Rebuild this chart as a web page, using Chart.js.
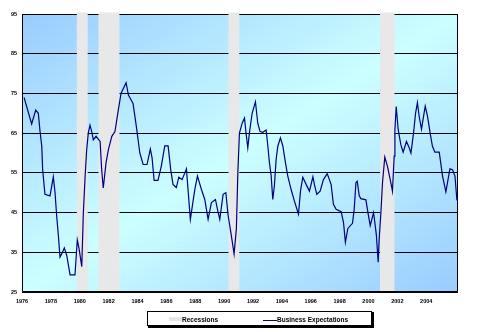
<!DOCTYPE html>
<html>
<head>
<meta charset="utf-8">
<script src="https://cdn.jsdelivr.net/npm/chart.js@4.4.1/dist/chart.umd.min.js"></script>
<style>
  html, body { margin: 0; padding: 0; background: #fff; }
  #wrap { width: 486px; height: 332px; }
</style>
</head>
<body>
<div id="wrap"><canvas id="chart"></canvas></div>
<script>
// business expectations index, dates as decimal years
const years = [
  1976.14, 1976.67, 1976.95, 1977.13, 1977.25, 1977.37, 1977.43, 1977.59, 1977.94, 1978.17,
  1978.29, 1978.40, 1978.52, 1978.63, 1978.75, 1978.93, 1979.10, 1979.33, 1979.67, 1979.83,
  1979.95, 1980.14, 1980.25, 1980.37, 1980.48, 1980.59, 1980.71, 1980.83, 1980.94, 1981.13,
  1981.41, 1981.52, 1981.63, 1981.82, 1981.98, 1982.22, 1982.44, 1982.67, 1982.86, 1983.21,
  1983.37, 1983.57, 1983.69, 1983.92, 1984.16, 1984.39, 1984.66, 1984.89, 1985.01, 1985.15,
  1985.42, 1985.65, 1985.89, 1986.12, 1986.30, 1986.46, 1986.69, 1986.86, 1987.09, 1987.39,
  1987.50, 1987.66, 1987.73, 1987.97, 1988.15, 1988.43, 1988.66, 1988.89, 1989.12, 1989.40,
  1989.54, 1989.70, 1989.93, 1990.12, 1990.28, 1990.50, 1990.69, 1990.85, 1990.95, 1991.06,
  1991.25, 1991.41, 1991.52, 1991.64, 1991.75, 1991.94, 1992.17, 1992.33, 1992.49, 1992.68,
  1992.91, 1993.03, 1993.14, 1993.26, 1993.37, 1993.48, 1993.60, 1993.72, 1993.90, 1994.07,
  1994.25, 1994.41, 1994.64, 1994.87, 1995.15, 1995.29, 1995.45, 1995.68, 1995.91, 1996.15,
  1996.26, 1996.42, 1996.65, 1996.88, 1997.14, 1997.41, 1997.57, 1997.76, 1998.11, 1998.27,
  1998.40, 1998.57, 1998.89, 1999.01, 1999.13, 1999.22, 1999.36, 1999.47, 1999.82, 1999.98,
  2000.12, 2000.35, 2000.44, 2000.55, 2000.67, 2000.74, 2000.86, 2000.97, 2001.13, 2001.31,
  2001.55, 2001.66, 2001.78, 2001.83, 2001.92, 2002.06, 2002.24, 2002.40, 2002.63, 2002.82,
  2002.94, 2003.12, 2003.26, 2003.39, 2003.51, 2003.67, 2003.93, 2004.09, 2004.27, 2004.43,
  2004.60, 2004.90, 2005.13, 2005.36, 2005.47, 2005.64, 2005.82, 2005.99, 2006.12, 2006.21
];
const expectations = [
  74.0, 67.3, 70.8, 70.0, 65.4, 61.7, 55.8, 49.6, 49.2, 54.0,
  50.0, 44.2, 39.2, 33.8, 34.6, 36.1, 34.2, 29.3, 29.3, 38.1,
  36.0, 31.4, 45.0, 54.0, 60.8, 65.0, 67.0, 65.4, 63.3, 64.2,
  62.9, 55.8, 51.2, 57.5, 60.8, 64.2, 65.4, 70.8, 75.0, 77.7,
  74.6, 73.3, 72.5, 66.7, 60.0, 57.1, 57.1, 61.0, 58.8, 53.1,
  53.1, 56.7, 61.8, 61.8, 55.8, 52.1, 51.3, 53.9, 53.3, 56.0,
  50.8, 43.3, 45.0, 50.8, 54.2, 50.8, 48.3, 43.3, 47.5, 48.3,
  45.8, 43.3, 49.6, 50.0, 44.2, 39.2, 34.6, 41.0, 55.0, 65.0,
  67.5, 68.8, 65.0, 61.3, 65.0, 70.0, 72.9, 67.5, 65.4, 65.2,
  65.8, 61.7, 57.5, 54.2, 48.3, 51.7, 58.3, 61.7, 63.8, 61.7,
  57.5, 54.2, 50.8, 47.9, 44.6, 50.4, 53.9, 52.1, 50.4, 54.0,
  52.0, 49.6, 50.4, 53.3, 54.8, 52.1, 47.1, 45.8, 45.2, 42.5,
  37.5, 41.0, 42.3, 45.8, 52.5, 52.9, 49.2, 48.5, 48.2, 44.6,
  41.7, 45.0, 42.5, 39.2, 32.5, 38.3, 45.0, 52.5, 59.0, 56.7,
  52.5, 50.4, 59.2, 65.8, 71.7, 65.8, 62.1, 60.2, 62.9, 61.3,
  60.0, 65.0, 70.0, 72.7, 69.2, 66.0, 71.8, 69.2, 65.0, 61.7,
  60.2, 60.2, 54.2, 50.2, 52.5, 56.0, 55.8, 54.2, 48.3, 47.5
];

// shaded recession periods
const recessionStart = [1979.80, 1981.30, 1990.30, 2000.80];
const recessionEnd   = [1980.55, 1982.75, 1991.05, 2001.80];

const yearTicks = [1976, 1978, 1980, 1982, 1984, 1986, 1988, 1990, 1992, 1994, 1996, 1998, 2000, 2002, 2004];
const valueTicks = [25, 35, 45, 55, 65, 75, 85, 95];

const tickFont = { family: 'Liberation Sans', size: 5.5, weight: 'bold' };

// plot background, recession bars and frame
const plotDecor = {
  id: 'plotDecor',
  beforeDraw(chart) {
    const { ctx, chartArea: a } = chart;
    const w = a.right - a.left, h = a.bottom - a.top;
    // diagonal gradient running corner to corner of the plot box
    const k = 2 / (1 / (w * w) + 1 / (h * h));
    const g = ctx.createLinearGradient(a.left, a.top, a.left + k / w, a.top + k / h);
    g.addColorStop(0, '#99ccff');
    g.addColorStop(0.5, '#ccffff');
    g.addColorStop(1, '#99ccff');
    ctx.save();
    ctx.fillStyle = g;
    ctx.fillRect(a.left, a.top, w, h);
    ctx.restore();
  },
  beforeDatasetsDraw(chart) {
    const { ctx, chartArea: a, scales: { x } } = chart;
    ctx.save();
    ctx.fillStyle = '#e8e8e8';
    for (let i = 0; i < recessionStart.length; i++) {
      const x1 = x.getPixelForValue(recessionStart[i]);
      const x2 = x.getPixelForValue(recessionEnd[i]);
      ctx.fillRect(x1, a.top - 1.5, x2 - x1, a.bottom - a.top + 1.5);
    }
    ctx.strokeStyle = '#000';
    ctx.lineWidth = 1;
    const l = Math.round(a.left) + 0.5, r = Math.round(a.right) - 0.5, b = Math.round(a.bottom) - 0.5;
    ctx.beginPath();
    ctx.moveTo(l, a.top); ctx.lineTo(l, b);
    ctx.lineTo(r, b); ctx.lineTo(r, a.top);
    ctx.stroke();
    ctx.restore();
  },
  afterDraw(chart) {
    const ctx = chart.ctx;
    ctx.save();
    // legend box with a little shadow
    ctx.fillStyle = '#000';
    ctx.fillRect(148, 312, 226, 16);
    ctx.fillStyle = '#fff';
    ctx.fillRect(147, 311, 225, 15);
    ctx.strokeStyle = '#000';
    ctx.lineWidth = 1;
    ctx.strokeRect(147.5, 311.5, 224, 14);

    ctx.fillStyle = '#e6e6e6';
    ctx.fillRect(169, 317, 13, 4);
    ctx.strokeStyle = '#000080';
    ctx.lineWidth = 1;
    ctx.beginPath();
    ctx.moveTo(263, 320.5); ctx.lineTo(277, 320.5);
    ctx.stroke();

    ctx.fillStyle = '#000';
    ctx.font = 'bold 6.5px "Liberation Sans"';
    ctx.textBaseline = 'alphabetic';
    ctx.fillText('Recessions', 182, 321.5);
    ctx.fillText('Business Expectations', 277, 321.5);
    ctx.restore();
  }
};

new Chart(document.getElementById('chart'), {
  type: 'line',
  data: {
    datasets: [{
      label: 'Business Expectations',
      data: years.map((yr, i) => ({ x: yr, y: expectations[i] })),
      borderColor: '#000080',
      borderWidth: 1.2,
      pointRadius: 0,
      tension: 0
    }]
  },
  options: {
    responsive: true,
    maintainAspectRatio: false,
    animation: false,
    devicePixelRatio: 1,
    layout: { padding: { left: 0, top: 14, right: 28, bottom: 24 } },
    plugins: { legend: { display: false }, tooltip: { enabled: false } },
    scales: {
      x: {
        type: 'linear',
        min: 1976,
        max: 2006.2,
        afterFit: s => { s.height = 16; },
        afterBuildTicks: s => { s.ticks = yearTicks.map(v => ({ value: v })); },
        grid: { display: false, drawTicks: false },
        border: { display: false },
        ticks: {
          autoSkip: false,
          maxRotation: 0,
          padding: 6,
          color: '#000',
          font: tickFont,
          callback: v => String(v)
        }
      },
      y: {
        min: 25,
        max: 95,
        afterFit: s => { s.width = 22; },
        afterBuildTicks: s => { s.ticks = valueTicks.map(v => ({ value: v })); },
        grid: { color: '#000', lineWidth: 1, drawTicks: false },
        border: { display: false },
        ticks: { padding: 5, color: '#000', font: tickFont }
      }
    }
  },
  plugins: [plotDecor]
});
</script>
</body>
</html>
